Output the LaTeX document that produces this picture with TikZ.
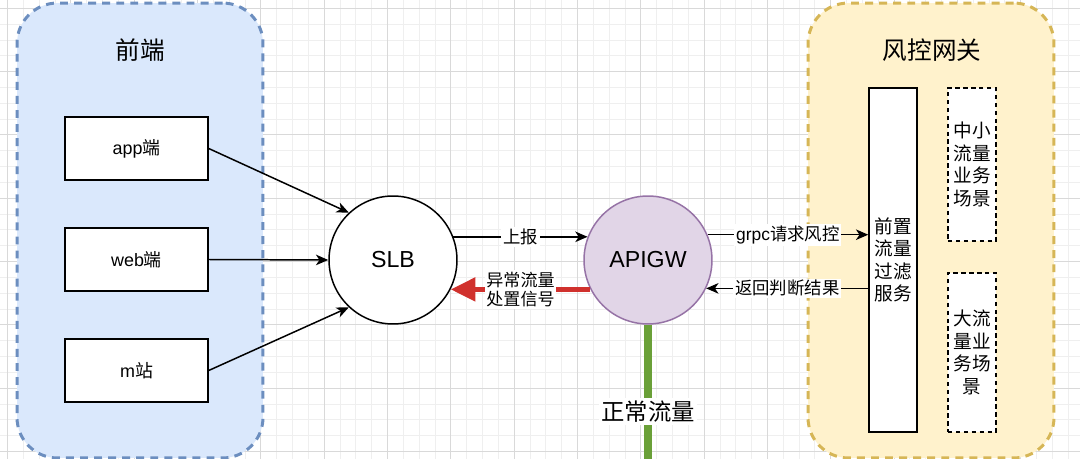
\documentclass[tikz,border=0pt]{standalone}
\usepackage{fontspec}
\setmainfont{Liberation Sans}
\newfontfamily\cjk{Noto Sans CJK SC}
\usetikzlibrary{arrows.meta,calc}
\definecolor{bluefill}{HTML}{DAE8FC}
\definecolor{bluedraw}{HTML}{6C8EBF}
\definecolor{yellowfill}{HTML}{FFF2CC}
\definecolor{yellowdraw}{HTML}{D6B656}
\definecolor{purplefill}{HTML}{E1D5E7}
\definecolor{purpledraw}{HTML}{9673A6}
\definecolor{redline}{HTML}{D0312D}
\definecolor{greenline}{HTML}{6AA038}
\definecolor{gridminor}{HTML}{EFEFEF}
\definecolor{gridmajor}{HTML}{D9D9D9}
\tikzset{
  container/.style={draw, line width=1.7pt, dash pattern=on 4.5pt off 3.5pt, rounded corners=23pt, minimum width=4.92cm, minimum height=9.1cm, inner sep=0pt},
  title/.style={font=\cjk\fontsize{14}{16}\selectfont, inner sep=1pt},
  client/.style={draw, line width=0.85pt, fill=white, minimum width=2.86cm, minimum height=1.26cm, inner sep=0pt, font=\fontsize{10.2}{12}\selectfont},
  hub/.style={circle, draw, line width=0.85pt, minimum size=2.56cm, inner sep=0pt, font=\fontsize{13.2}{15}\selectfont},
  tallbox/.style={draw, fill=white, minimum width=0.96cm, inner sep=0pt, align=center, font=\cjk\fontsize{10.6}{12.8}\selectfont},
  arr/.style={-{Stealth[length=7pt,width=6pt,inset=2pt]}, line width=0.85pt},
  elabel/.style={fill=white, text=black, inner sep=1pt, font=\cjk\fontsize{9.9}{11.5}\selectfont},
  minorgrid/.style={gridminor, line width=0.5pt},
  majorgrid/.style={gridmajor, line width=0.6pt}
}
\begin{document}
\begin{tikzpicture}[x=0.02cm,y=-0.02cm]
\useasboundingbox (0,0) rectangle (1080,459);
\fill[white] (0,0) rectangle (1080,459);
% grid
\foreach \i in {-1,...,68} {
  \draw[minorgrid] ({7.6+15.83*\i},0) -- ({7.6+15.83*\i},459);
}
\foreach \i in {-1,...,29} {
  \draw[minorgrid] (0,{8.3+15.83*\i}) -- (1080,{8.3+15.83*\i});
}
\foreach \i in {0,...,17} {
  \draw[majorgrid] ({7.6+63.33*\i},0) -- ({7.6+63.33*\i},459);
}
\foreach \i in {0,...,7} {
  \draw[majorgrid] (0,{8.3+63.33*\i}) -- (1080,{8.3+63.33*\i});
}
% containers
\node[container, fill=bluefill, draw=bluedraw] (front) at (140,230.5) {};
\node[container, fill=yellowfill, draw=yellowdraw] (risk) at (931,230.5) {};
\node[title] (fronttitle) at (140,50) {前端};
\node[title] (risktitle) at (932,50) {风控网关};
% clients
\node[client] (app) at (136.5,148.5) {app{\cjk 端}};
\node[client] (web) at (136.5,259.5) {web{\cjk 端}};
\node[client] (msite) at (136.5,370.5) {m{\cjk 站}};
% hubs
\node[hub, fill=white] (slb) at (393,260) {SLB};
\node[hub, fill=purplefill, draw=purpledraw] (apigw) at (648,260) {APIGW};
% risk boxes
\node[tallbox, line width=0.85pt, minimum height=6.88cm] (filter) at (893,260) {前置\\流量\\过滤\\服务};
\node[tallbox, line width=0.7pt, dash pattern=on 2.5pt off 2pt, minimum height=3.06cm] (small) at (972,164.5) {中小\\流量\\业务\\场景};
\node[tallbox, line width=0.7pt, dash pattern=on 2.5pt off 2pt, minimum height=3.18cm] (big) at (972,352.5) {大流\\量业\\务场\\景};
% connectors
\draw[arr] (app.east) -- (slb.133);
\draw[arr] (web.east) -- (slb.180);
\draw[arr] (msite.east) -- (slb.227);
\draw[arr] (slb.21) -- node[elabel] (lbl1) {上报} (apigw.159);
\draw[line width=2.8pt, redline, -{Triangle[length=14pt,width=13pt]}] (apigw.207) -- node[elabel, align=center, font=\cjk\fontsize{9.7}{11.2}\selectfont] (lbl2) {异常流量\\处置信号} (slb.-27);
\draw[arr] (apigw.23) -- node[elabel] (lbl3) {{\fontspec{Liberation Sans}grpc}请求风控} (apigw.23 -| filter.west);
\draw[arr] (filter.west |- apigw.-26) -- node[elabel] (lbl4) {返回判断结果} (apigw.-26);
\coordinate (greenend) at (648,470);
\draw[greenline, line width=5pt] (apigw.south) -- node[pos=0.6, fill=white, inner sep=1.5pt, font=\cjk\fontsize{13.3}{15}\selectfont, text=black] (lbl5) {正常流量} (greenend);
\end{tikzpicture}
\end{document}
